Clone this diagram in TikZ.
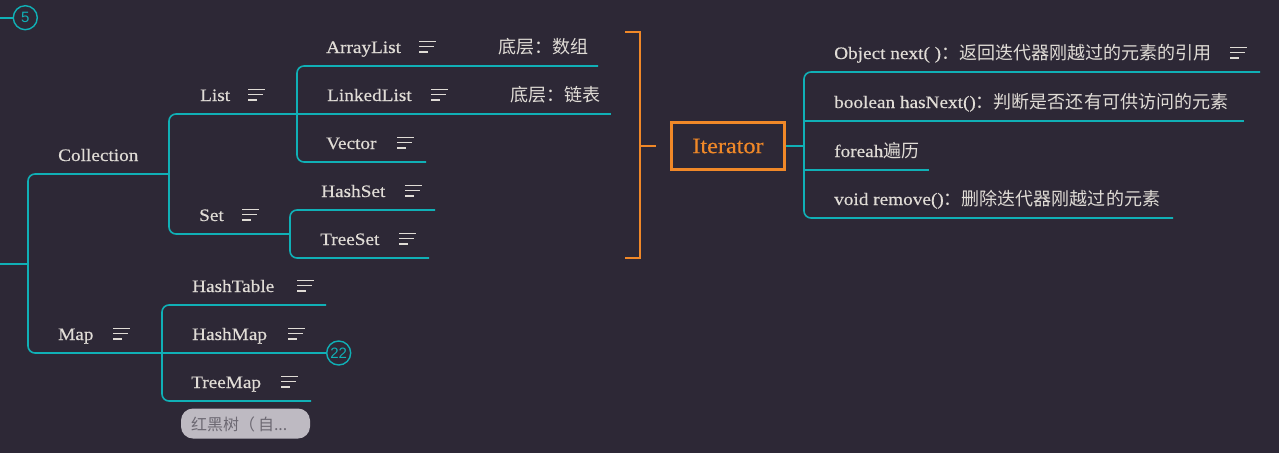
\documentclass[tikz,border=0pt]{standalone}
\usepackage{fontspec}
\setmainfont[FakeStretch=1.1,FakeBold=0.4]{Liberation Serif}
\newfontfamily\cjk[Scale=1.03]{Noto Sans CJK SC}
\newfontfamily\numfont{Liberation Sans}
\definecolor{bgc}{RGB}{45,40,54}
\definecolor{tealc}{RGB}{16,176,182}
\definecolor{txtc}{RGB}{224,220,214}
\definecolor{orngc}{RGB}{240,136,40}
\definecolor{pillc}{RGB}{190,186,194}
\definecolor{pilltxt}{RGB}{108,104,114}
\tikzset{
  link/.style={draw=tealc, line width=1.6pt, rounded corners=7pt},
  brk/.style={draw=orngc, line width=2.8pt},
  topic/.style={anchor=base west, inner sep=0pt, text=txtc, font=\fontsize{17.5}{20}\selectfont},
  menuicon/.pic={\draw[txtc, line width=1.5pt] (0,-5.3) -- (17,-5.3) (0,0) -- (15,0) (0,5.3) -- (9,5.3);},
  badge/.style={circle, draw=tealc, line width=1.4pt, minimum size=24pt, inner sep=0pt, text=tealc, font=\numfont\fontsize{15}{16}\selectfont},
}
\begin{document}
\begin{tikzpicture}[x=1pt,y=-1pt]
\useasboundingbox (0,0) rectangle (1279,453);
\fill[bgc] (0,0) rectangle (1279,453);

% badge 5
\coordinate (b5s) at (0,17.7);
\node[badge] (b5) at (25.3,17.7) {5};
\draw[link] (b5s) -- (b5.west);

% coordinates
\coordinate (root) at (0,264);
\coordinate (rootJ) at (28,264);
\coordinate (collL) at (28,174); \coordinate (collR) at (169,174);
\coordinate (mapL) at (28,353); \coordinate (mapR) at (162,353);
\coordinate (listL) at (169,114); \coordinate (listR) at (297,114);
\coordinate (setL) at (169,234); \coordinate (setR) at (290,234);
\coordinate (alL) at (297,66); \coordinate (alR) at (598,66);
\coordinate (llR) at (611,114);
\coordinate (vecL) at (297,162); \coordinate (vecR) at (426,162);
\coordinate (hsL) at (290,210); \coordinate (hsR) at (435,210);
\coordinate (tsL) at (290,258); \coordinate (tsR) at (429,258);
\coordinate (htL) at (162,305); \coordinate (htR) at (326,305);
\coordinate (tmL) at (162,401); \coordinate (tmR) at (311,401);
\coordinate (itJ) at (804,146);
\coordinate (o1L) at (804,72);  \coordinate (o1R) at (1260,72);
\coordinate (o2L) at (804,121); \coordinate (o2R) at (1244,121);
\coordinate (o3L) at (804,170); \coordinate (o3R) at (929,170);
\coordinate (o4L) at (804,218); \coordinate (o4R) at (1173,218);

% connectors
\draw[link] (root) -- (rootJ);
\draw[link] (collR) -- (collL) -- (mapL) -- (mapR);
\draw[link] (listR) -- (listL) -- (setL) -- (setR);
\draw[link] (alR) -- (alL) -- (vecL) -- (vecR);
\draw[link] (listR) -- (llR);
\draw[link] (hsR) -- (hsL) -- (tsL) -- (tsR);
\draw[link] (htR) -- (htL) -- (tmL) -- (tmR);
\node[badge] (b22) at (338.7,353) {22};
\draw[link] (mapR) -- (b22.west);

% topics
\node[topic] (coll) at (58,161) {Collection};
\node[topic] (list) at (200,101) {List};
\pic at (248,94.6) {menuicon};
\node[topic] (set) at (199,221) {Set};
\pic at (242,214.6) {menuicon};
\node[topic] (al) at (326,53) {ArrayList};
\pic at (419,46.6) {menuicon};
\node[topic] (allab) at (498,53) {\cjk 底层：数组};
\node[topic] (ll) at (327,101) {LinkedList};
\pic at (431,94.6) {menuicon};
\node[topic] (lllab) at (510,101) {\cjk 底层：链表};
\node[topic] (vec) at (326,149) {Vector};
\pic at (397,142.6) {menuicon};
\node[topic] (hs) at (321,197) {HashSet};
\pic at (405,190.6) {menuicon};
\node[topic] (ts) at (320,245) {TreeSet};
\pic at (399,238.6) {menuicon};
\node[topic] (map) at (58,340) {Map};
\pic at (113,333.6) {menuicon};
\node[topic] (ht) at (192,292) {HashTable};
\pic at (297,285.6) {menuicon};
\node[topic] (hm) at (192,340) {HashMap};
\pic at (288,333.6) {menuicon};
\node[topic] (tm) at (191,388) {TreeMap};
\pic at (281,381.6) {menuicon};

% pill
\node[fill=pillc, rounded corners=12pt, minimum width=129pt, minimum height=30pt, inner sep=0pt] (rb) at (245.5,423.5) {};
\node[anchor=west, inner sep=0pt, text=pilltxt, font=\cjk\fontsize{15.5}{16}\selectfont] (rbt) at (191,424) {红黑树（\hspace{3pt}自...};

% bracket
\draw[brk] (625,32) -- (640,32) -- (640,258) -- (625,258);
\draw[brk] (640,146) -- (656,146);

% iterator
\node[draw=orngc, line width=2.8pt, minimum width=113pt, minimum height=47pt, inner sep=0pt, text=orngc, font=\fontsize{22}{24}\selectfont] (it) at (728,146) {Iterator};
\draw[link] (it.east) -- (itJ);
\draw[link] (o1R) -- (o1L) -- (o4L) -- (o4R);
\draw[link] (o2L) -- (o2R);
\draw[link] (o3L) -- (o3R);
\node[topic] (t1) at (834,59) {Object next( )\cjk ：返回迭代器刚越过的元素的引用};
\pic at (1230,52.6) {menuicon};
\node[topic] (t2) at (834,108) {boolean hasNext()\cjk ：判断是否还有可供访问的元素};
\node[topic] (t3) at (834,157) {foreah\cjk 遍历};
\node[topic] (t4) at (834,205) {void remove()\cjk ：删除迭代器刚越过的元素};
\end{tikzpicture}
\end{document}
